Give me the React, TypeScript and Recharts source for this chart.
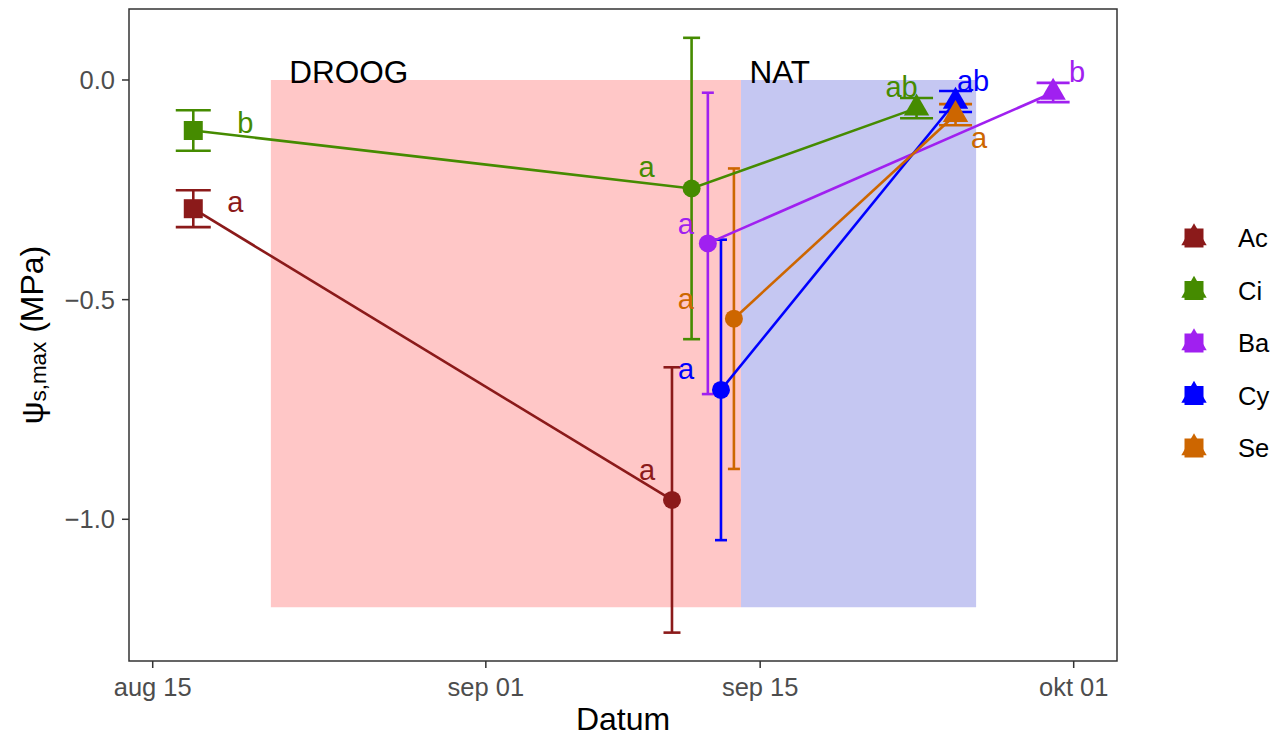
import React from "react"
import { ComposedChart, Scatter, XAxis, YAxis, ReferenceArea, ErrorBar, Label } from "recharts"

const FONT = "'Liberation Sans', Arial, Helvetica, sans-serif"

const SPECIES = ["Ac", "Ci", "Ba", "Cy", "Se"]
const COLORS = ["#8B1A1A", "#458B00", "#A020F0", "#0000FF", "#CD6600"]

// days after 15 aug, mean psi (MPa), standard error, letter, moment (0 start, 1 droog, 2 nat)
const AC_DAY = [2.07, 26.5]
const AC_MEAN = [-0.293, -0.956]
const AC_SE = [0.042, 0.302]
const AC_LETTER = ["a", "a"]
const AC_MOMENT = [0, 1]

const CI_DAY = [2.07, 27.5, 38.98]
const CI_MEAN = [-0.115, -0.247, -0.064]
const CI_SE = [0.046, 0.343, 0.023]
const CI_LETTER = ["b", "a", "ab"]
const CI_MOMENT = [0, 1, 2]

const BA_DAY = [28.33, 45.95]
const BA_MEAN = [-0.372, -0.0285]
const BA_SE = [0.343, 0.022]
const BA_LETTER = ["a", "b"]
const BA_MOMENT = [1, 2]

const CY_DAY = [29.0, 40.97]
const CY_MEAN = [-0.7055, -0.049]
const CY_SE = [0.342, 0.024]
const CY_LETTER = ["a", "ab"]
const CY_MOMENT = [1, 2]

const SE_DAY = [29.66, 40.97]
const SE_MEAN = [-0.5434, -0.079]
const SE_SE = [0.342, 0.024]
const SE_LETTER = ["a", "a"]
const SE_MOMENT = [1, 2]

const DAYS = [AC_DAY, CI_DAY, BA_DAY, CY_DAY, SE_DAY]
const MEANS = [AC_MEAN, CI_MEAN, BA_MEAN, CY_MEAN, SE_MEAN]
const SES = [AC_SE, CI_SE, BA_SE, CY_SE, SE_SE]
const LETTERS = [AC_LETTER, CI_LETTER, BA_LETTER, CY_LETTER, SE_LETTER]
const MOMENTS = [AC_MOMENT, CI_MOMENT, BA_MOMENT, CY_MOMENT, SE_MOMENT]

const TICK_DAYS = [0, 17, 31, 47]
const TICK_LABELS = ["aug 15", "sep 01", "sep 15", "okt 01"]
const Y_TICKS = [-1, -0.5, 0]

const PERIOD_NAMES = ["DROOG", "NAT"]
const PERIOD_START = [6.03, 30.02]
const PERIOD_END = [30.02, 42.02]
const PERIOD_LABEL_DAY = [10, 32]
const PERIOD_BOTTOM = -1.2
const PERIOD_TOP = 0

// styling: letter offsets (px) and error bar cap half widths
const LETTER_OFFSET = [
  [[42, 3.5], [-25, -20]],
  [[52, 2.5], [-45, -11], [-15, -11]],
  [[-22, -9], [24, -10.5]],
  [[-35, -11], [17.5, -10.5]],
  [[-48, -10], [23.5, 33.5]],
]
const CAP_START = 17.5
const CAP_NAT = 16.5
const CAP_DROOG = [8.5, 8.5, 6, 6, 6]
const PERIOD_FILLS = ["#FFC7C7", "#C5C7F2"]

const X_DOMAIN = [-1.21, 49.21]
const Y_DOMAIN = [-1.3226, 0.1616]
const LW = 2.6

const series = SPECIES.map((name, i) => ({
  name,
  color: COLORS[i],
  points: DAYS[i].map((d, j) => ({
    x: d,
    y: MEANS[i][j],
    err: SES[i][j],
    letter: LETTERS[i][j],
    moment: MOMENTS[i][j],
    dx: LETTER_OFFSET[i][j][0],
    dy: LETTER_OFFSET[i][j][1],
  })),
}))

const periodLabels = PERIOD_NAMES.map((n, i) => ({ x: PERIOD_LABEL_DAY[i], y: PERIOD_TOP, text: n }))

function Marker({ cx, cy, moment, color }: any) {
  if (cx == null || cy == null) return <g />
  if (moment === 0) return <rect x={cx - 9.5} y={cy - 9.5} width={19} height={19} fill={color} />
  if (moment === 1) return <circle cx={cx} cy={cy} r={9} fill={color} />
  const r = 14.7
  const hw = 12.7
  return <polygon points={`${cx},${cy - r} ${cx + hw},${cy + r / 2} ${cx - hw},${cy + r / 2}`} fill={color} />
}

function YTitle(props: any) {
  const vb = props.viewBox || { x: 0, y: 9, width: 129, height: 652 }
  const cx = vb.x + 43
  const cy = vb.y + vb.height / 2
  return (
    <text transform={`rotate(-90 ${cx} ${cy})`} x={cx} y={cy} textAnchor="middle" fontSize={32} fill="#000" fontFamily={FONT}>
      ψ<tspan fontSize={22.4} dy={3}>s,max</tspan>
      <tspan dy={-3}> (MPa)</tspan>
    </text>
  )
}

function LegendOverlay() {
  return (
    <svg width={123} height={280} style={{ position: "absolute", left: 1160, top: 200 }}>
      {SPECIES.map((name, i) => {
        const cy = 38 + i * 52.5
        const cx = 34
        return (
          <g key={name}>
            <rect x={cx - 9.5} y={cy - 9.5} width={19} height={19} fill={COLORS[i]} />
            <polygon points={`${cx},${cy - 14.7} ${cx + 12.7},${cy + 7.35} ${cx - 12.7},${cy + 7.35}`} fill={COLORS[i]} />
            <text x={78} y={cy + 9} fontSize={25.5} fill="#000" fontFamily={FONT}>{name}</text>
          </g>
        )
      })}
    </svg>
  )
}

export default function App() {
  return (
    <div style={{ position: "absolute", left: 0, top: 0, width: 1283, height: 737, background: "#fff", fontFamily: FONT }}>
      <ComposedChart width={1283} height={737} margin={{ top: 9, right: 166, left: 0, bottom: 0 }}>
        <XAxis
          type="number"
          dataKey="x"
          domain={X_DOMAIN}
          ticks={TICK_DAYS}
          interval={0}
          allowDataOverflow
          tickFormatter={(v: number) => TICK_LABELS[TICK_DAYS.indexOf(v)]}
          height={76}
          tickSize={7}
          tickMargin={10}
          axisLine={false}
          tickLine={{ stroke: "#333", strokeWidth: 1.5 }}
          tick={{ fill: "#4D4D4D", fontSize: 25.5, fontFamily: FONT }}
        >
          <Label value="Datum" position="insideBottom" offset={7} fontSize={32} fill="#000" fontFamily={FONT} />
        </XAxis>
        <YAxis
          type="number"
          dataKey="y"
          domain={Y_DOMAIN}
          ticks={Y_TICKS}
          interval={0}
          allowDataOverflow
          tickFormatter={(v: number) => v.toFixed(1).replace("-", "\u2212")}
          width={129}
          tickSize={7}
          tickMargin={7}
          axisLine={false}
          tickLine={{ stroke: "#333", strokeWidth: 1.5 }}
          tick={{ fill: "#4D4D4D", fontSize: 25.5, fontFamily: FONT }}
        >
          <Label content={YTitle} />
        </YAxis>

        {PERIOD_NAMES.map((n, i) => (
          <ReferenceArea
            key={n}
            x1={PERIOD_START[i]}
            x2={PERIOD_END[i]}
            y1={PERIOD_BOTTOM}
            y2={PERIOD_TOP}
            fill={PERIOD_FILLS[i]}
            fillOpacity={1}
            stroke="none"
            zIndex={-50}
          />
        ))}

        <Scatter
          data={periodLabels}
          dataKey="y"
          isAnimationActive={false}
          legendType="none"
          shape={(p: any) => (
            <text x={p.cx} y={p.cy + 3} textAnchor="middle" fontSize={31.5} fill="#000" fontFamily={FONT}>
              {p.payload.text}
            </text>
          )}
        />

        {series.map((s) => (
          <Scatter
            key={`line-${s.name}`}
            data={s.points}
            dataKey="y"
            isAnimationActive={false}
            legendType="none"
            line={{ stroke: s.color, strokeWidth: LW }}
            shape={() => <g />}
          />
        ))}

        {series.flatMap((s, i) =>
          s.points.map((pt, j) => (
            <Scatter
              key={`pt-${s.name}-${j}`}
              data={[pt]}
              dataKey="y"
              isAnimationActive={false}
              legendType="none"
              shape={(p: any) => <Marker cx={p.cx} cy={p.cy} moment={pt.moment} color={s.color} />}
            >
              <ErrorBar
                dataKey="err"
                direction="y"
                width={pt.moment === 0 ? CAP_START : pt.moment === 2 ? CAP_NAT : CAP_DROOG[i]}
                stroke={s.color}
                strokeWidth={LW}
                isAnimationActive={false}
              />
            </Scatter>
          ))
        )}

        {series.map((s) => (
          <Scatter
            key={`lbl-${s.name}`}
            data={s.points}
            dataKey="y"
            isAnimationActive={false}
            legendType="none"
            shape={(p: any) => (
              <text x={p.cx + p.payload.dx} y={p.cy + p.payload.dy} textAnchor="middle" fontSize={29} fill={s.color} fontFamily={FONT}>
                {p.payload.letter}
              </text>
            )}
          />
        ))}

        <ReferenceArea
          x1={X_DOMAIN[0]}
          x2={X_DOMAIN[1]}
          y1={Y_DOMAIN[0]}
          y2={Y_DOMAIN[1]}
          fill="none"
          stroke="#333"
          strokeWidth={1.5}
          zIndex={2500}
        />
      </ComposedChart>
      <LegendOverlay />
    </div>
  )
}
